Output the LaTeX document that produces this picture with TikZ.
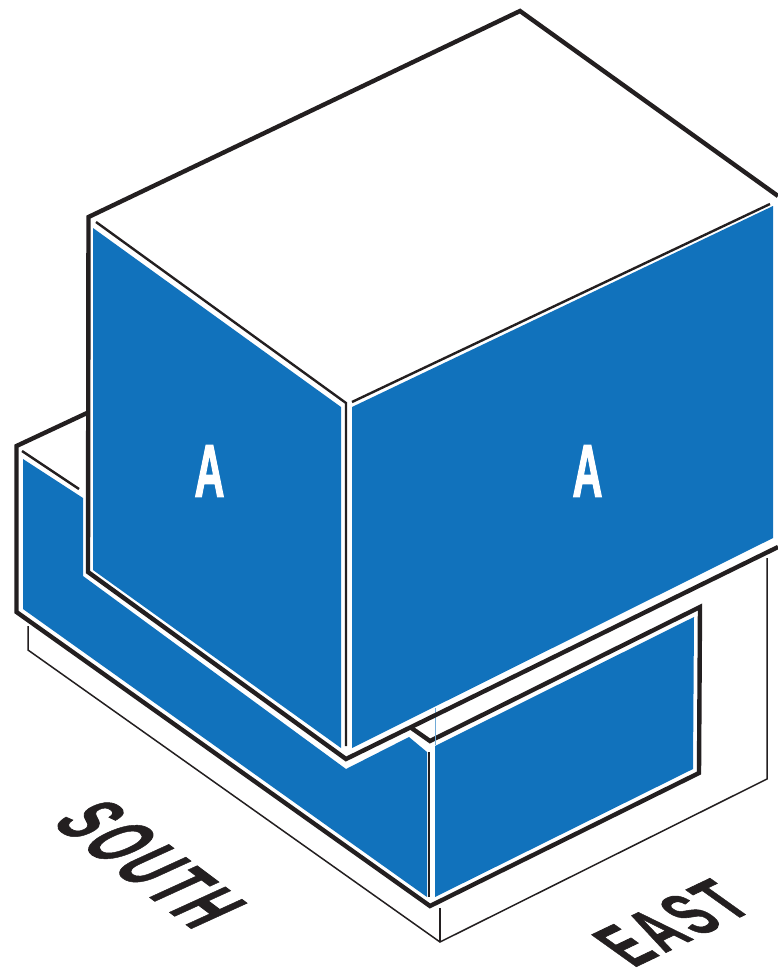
\documentclass[tikz,border=0pt]{standalone}
\usepackage{fontspec}
\setmainfont{Liberation Sans}
\newfontfamily\heavyfont[FakeBold=2.2]{Liberation Sans Bold}
\newfontfamily\markfont[FakeBold=1,LetterSpace=9]{Liberation Sans Bold}
\definecolor{face}{HTML}{1172BC}
\definecolor{ink}{HTML}{231F20}
\begin{document}
\begin{tikzpicture}[x=1pt, y=-1pt, line join=miter,
   panel/.style={fill=face, draw=none},
   heavy/.style={draw=ink, line width=4.4pt},
   medium/.style={draw=ink, line width=2.4pt},
   fine/.style={draw=ink, line width=1.5pt},
   letter/.style={text=white, inner sep=0pt, font=\heavyfont\fontsize{74}{74}\selectfont},
   side/.style={text=ink, inner sep=0pt, font=\markfont\fontsize{10}{10}\selectfont, transform shape}]
  \useasboundingbox (0,0) rectangle (778,970);
  % base under the lower block
  \draw[fine] (28,626) -- (28,650) -- (440,942) -- (767,779) -- (767,558);
  \draw[fine] (440,942) -- (440,908);
  % lower block
  \fill[panel] (23,459) -- (83,498) -- (83,576) -- (346,769) -- (409,737) -- (427,752) -- (427,897) -- (23,609) -- cycle;
  \fill[panel] (435,746) -- (694,617) -- (693,769) -- (435,897) -- cycle;
  \draw[heavy] (87,413) -- (16.5,446) -- (16.5,612) -- (430,906) -- (699,773) -- (700,607) -- (430,741) -- (410,727);
  \draw[medium] (22,451) -- (79,489);
  \draw[medium] (429,752) -- (429,897);
  \draw[draw=face!60, line width=.8pt] (435,708) -- (435,745);
  % upper block
  \fill[panel] (93,228) -- (341,407) -- (341,748) -- (93,570) -- cycle;
  \fill[panel] (352,407) -- (773,206) -- (773,538) -- (352,748) -- cycle;
  \draw[heavy] (778,196) -- (520,11) -- (88.5,217) -- (88,572) -- (346,759) -- (778,547);
  \draw[medium] (96,222) -- (346,403) -- (346,746);
  \draw[medium] (352,402) -- (770,204);
  % labels
  \node[letter] (southA) at (209.5,471) {\scalebox{.56}[1]{A}};
  \node[letter] (eastA) at (587.5,471) {\scalebox{.56}[1]{A}};
  \node[side, cm={3.72,-2.79,8.1,3.7,(150,864)}] (south) at (0,0) {SOUTH};
  \node[side, cm={4.15,1.98,-6.5,4.64,(672,923)}] (east) at (0,0) {EAST};
\end{tikzpicture}
\end{document}
